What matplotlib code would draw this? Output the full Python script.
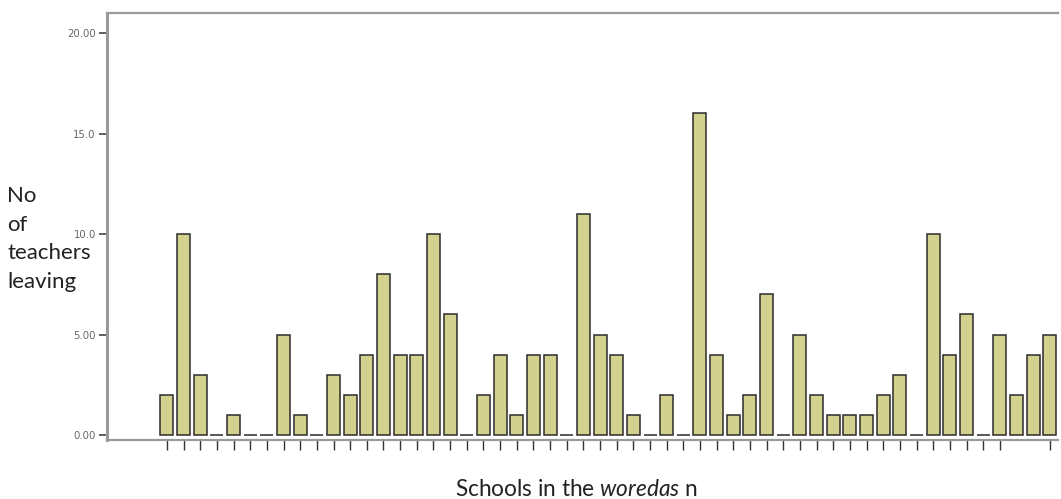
import numpy as np
import matplotlib
matplotlib.use("Agg")
import matplotlib.pyplot as plt

# Anzahl Lehrkräfte, die die Schule verlassen (eine Säule pro Schule)
schools = np.arange(1, 55)
leaving = [2, 10, 3, 0, 1, 0, 0, 5, 1, 0,
           3, 2, 4, 8, 4, 4, 10, 6, 0, 2,
           4, 1, 4, 4, 0, 11, 5, 4, 1, 0,
           2, 0, 16, 4, 1, 2, 7, 0, 5, 2,
           1, 1, 1, 2, 3, 0, 10, 4, 6, 0,
           5, 2, 4, 5]
y_ticks = [0, 5, 10, 15, 20]
y_tick_labels = ["0.00", "5.00", "10.0", "15.0", "20.00"]
ylabel_lines = ["No", "of", "teachers", "leaving"]
# Schulen ohne sichtbaren Tick im Original
no_tick = [52, 53]

plt.rcParams["mathtext.fontset"] = "custom"
plt.rcParams["mathtext.rm"] = "Lato"
plt.rcParams["mathtext.it"] = "Lato:italic"

fig = plt.figure(figsize=(10.61, 4.99), dpi=100)
ax = fig.add_axes([0.1008, 0.118, 0.8962, 0.856])

ax.bar(schools, leaving, width=0.78, color="#d3d18e",
       edgecolor="#2b2b2b", linewidth=1.1, zorder=3)

ax.set_xlim(-2.6, 54.48)
ax.set_ylim(-0.25, 21.0)

ax.set_yticks(y_ticks)
ax.set_yticklabels(y_tick_labels, fontsize=7.3, color="#666666")
ax.set_xticks([s for s in schools if s not in no_tick])
ax.set_xticklabels([])
ax.tick_params(axis="y", direction="out", length=6, width=1.2, color="#444444", pad=2)
ax.tick_params(axis="x", direction="out", length=7, width=1.0, color="#333333")

for side in ("top", "bottom", "left"):
    ax.spines[side].set_color("#9a9a9a")
    ax.spines[side].set_linewidth(1.6)
ax.spines["left"].set_linewidth(2.2)
ax.spines["right"].set_visible(False)

# y-Beschriftung zeilenweise (Grundlinien ca. 28.7 px auseinander)
for i, line in enumerate(ylabel_lines):
    base_px = 202 + i * 28.7
    fig.text(0.007, 1 - base_px / 499, line, fontsize=16.0,
             family="Lato", color="#222222", ha="left", va="baseline")
fig.text(0.543, 0.006, r"Schools in the $\it{woredas}$ n", fontsize=16.3,
         family="Lato", color="#222222", ha="center", va="baseline")

fig.savefig("out.png", dpi=100)
